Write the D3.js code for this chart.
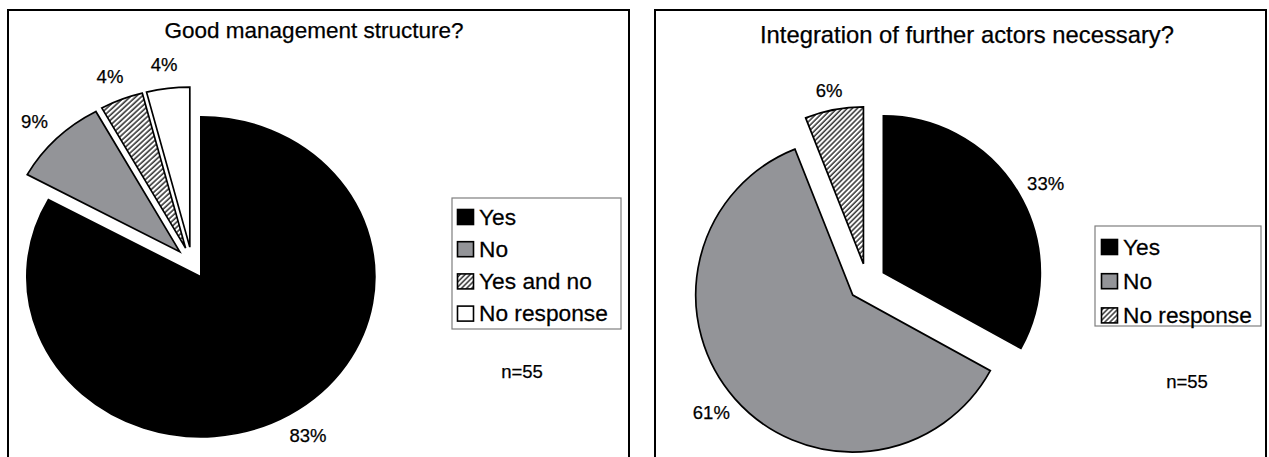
<!DOCTYPE html>
<html>
<head>
<meta charset="utf-8">
<script src="https://cdn.jsdelivr.net/npm/d3@7"></script>
<style>
  html, body { margin: 0; padding: 0; background: #fff; }
  svg { display: block; font-family: "Liberation Sans", Arial, sans-serif; }
</style>
</head>
<body>
<svg id="chart" width="1269" height="457"></svg>
<script>
// ---------- data ----------
const leftTitle = "Good management structure?";
const leftCategories = ["Yes", "No", "Yes and no", "No response"];
const leftValues = [83, 9, 4, 4];
const leftLabels = ["83%", "9%", "4%", "4%"];

const rightTitle = "Integration of further actors necessary?";
const rightCategories = ["Yes", "No", "No response"];
const rightValues = [33, 61, 6];
const rightLabels = ["33%", "61%", "6%"];

const sampleNote = "n=55";

// ---------- styles ----------
const fillFor = {
  "Yes": "#000000",
  "No": "#939498",
  "Yes and no": "url(#hatch)",
  "No response": "#ffffff"
};
const rightFillFor = {
  "Yes": "#000000",
  "No": "#939498",
  "No response": "url(#hatch)"
};

const svg = d3.select("#chart");
const defs = svg.append("defs");
const pat = defs.append("pattern")
  .attr("id", "hatch").attr("patternUnits", "userSpaceOnUse")
  .attr("width", 3.6).attr("height", 3.6)
  .attr("patternTransform", "rotate(45)");
pat.append("rect").attr("width", 3.6).attr("height", 3.6).attr("fill", "#fff");
pat.append("line").attr("x1", 1).attr("y1", 0).attr("x2", 1).attr("y2", 3.6)
  .attr("stroke", "#000").attr("stroke-width", 1.2);

function stext(g, str, x, y, size, sx, anchor) {
  return g.append("text")
    .attr("transform", `translate(${x},${y}) scale(${sx},1)`)
    .attr("text-anchor", anchor || "middle")
    .attr("font-size", size)
    .attr("fill", "#000")
    .attr("stroke", "#000").attr("stroke-width", 0.25)
    .text(str);
}

function panel(cfg) {
  const g = svg.append("g");
  g.append("rect")
    .attr("x", cfg.frame[0]).attr("y", cfg.frame[1])
    .attr("width", cfg.frame[2]).attr("height", cfg.frame[3])
    .attr("fill", "#fff").attr("stroke", "#000").attr("stroke-width", 2);
  stext(g, cfg.title, cfg.titlePos[0], cfg.titlePos[1], cfg.titleSize, cfg.titleSx);

  const pie = d3.pie().sort(null).value(d => d.v);
  const data = pie(cfg.cats.map((c, i) => ({ c, v: cfg.vals[i], l: cfg.labels[i] })));
  const arc = d3.arc().innerRadius(0).outerRadius(cfg.r);
  const pg = g.append("g")
    .attr("transform", `translate(${cfg.cx},${cfg.cy}) scale(${cfg.psx},1)`);
  data.forEach(d => {
    const a = (d.startAngle + d.endAngle) / 2;
    const dx = Math.sin(a), dy = -Math.cos(a);
    pg.append("path")
      .attr("transform", `translate(${cfg.explode * dx},${cfg.explode * dy})`)
      .attr("d", arc(d))
      .attr("fill", cfg.fills[d.data.c])
      .attr("stroke", "#000")
      .attr("stroke-width", 1.7)
      .attr("stroke-linejoin", "miter")
      .attr("vector-effect", "non-scaling-stroke");
    const R = cfg.r + cfg.explode;
    const px = cfg.cx + cfg.psx * R * dx + cfg.gap * dx;
    const py = cfg.cy + R * dy + cfg.gap * dy;
    const t = stext(g, d.data.l, 0, 0, cfg.pctSize, cfg.pctSx);
    const w = t.node().getBBox().width * cfg.pctSx;
    const h = cfg.pctSize * 0.72;
    const lx = px + dx * w / 2;
    const ly = py + dy * h / 2 + h / 2;
    t.attr("transform", `translate(${lx},${ly}) scale(${cfg.pctSx},1)`);
  });

  const L = cfg.legend;
  g.append("rect")
    .attr("x", L.x).attr("y", L.y).attr("width", L.w).attr("height", L.h)
    .attr("fill", "#fff").attr("stroke", "#7f7f7f").attr("stroke-width", 1.2);
  cfg.cats.forEach((c, i) => {
    const by = L.firstBase + i * L.step;
    g.append("rect")
      .attr("x", L.sw).attr("y", by - 15).attr("width", 16).attr("height", 15)
      .attr("fill", cfg.fills[c]).attr("stroke", "#000").attr("stroke-width", 1.6);
    stext(g, c, L.tx, by, cfg.legSize, cfg.legSx, "start");
  });

  stext(g, sampleNote, cfg.note[0], cfg.note[1], cfg.pctSize, cfg.pctSx);
}

panel({
  frame: [8, 10, 621, 470],
  title: leftTitle, titlePos: [314, 38], titleSize: 22.5, titleSx: 1.0,
  cats: leftCategories, vals: leftValues, labels: leftLabels, fills: fillFor,
  cx: 192, cy: 263, r: 160, psx: 1.0875, explode: 16, gap: 18,
  pctSize: 18.5, pctSx: 1.0,
  legend: { x: 452, y: 198, w: 169, h: 131, firstBase: 224.5, step: 32.2, sw: 457.5, tx: 479 },
  legSize: 22.5, legSx: 1.01,
  note: [522, 378]
});

panel({
  frame: [655, 10, 611, 470],
  title: rightTitle, titlePos: [967, 42.5], titleSize: 23.8, titleSx: 1.0,
  cats: rightCategories, vals: rightValues, labels: rightLabels, fills: rightFillFor,
  cx: 867, cy: 282.5, r: 157, psx: 1, explode: 19, gap: 13,
  pctSize: 18.5, pctSx: 1.0,
  legend: { x: 1095, y: 226, w: 166, h: 100, firstBase: 254.5, step: 34.2, sw: 1101.5, tx: 1123 },
  legSize: 22.5, legSx: 1.01,
  note: [1187, 388]
});
</script>
</body>
</html>
